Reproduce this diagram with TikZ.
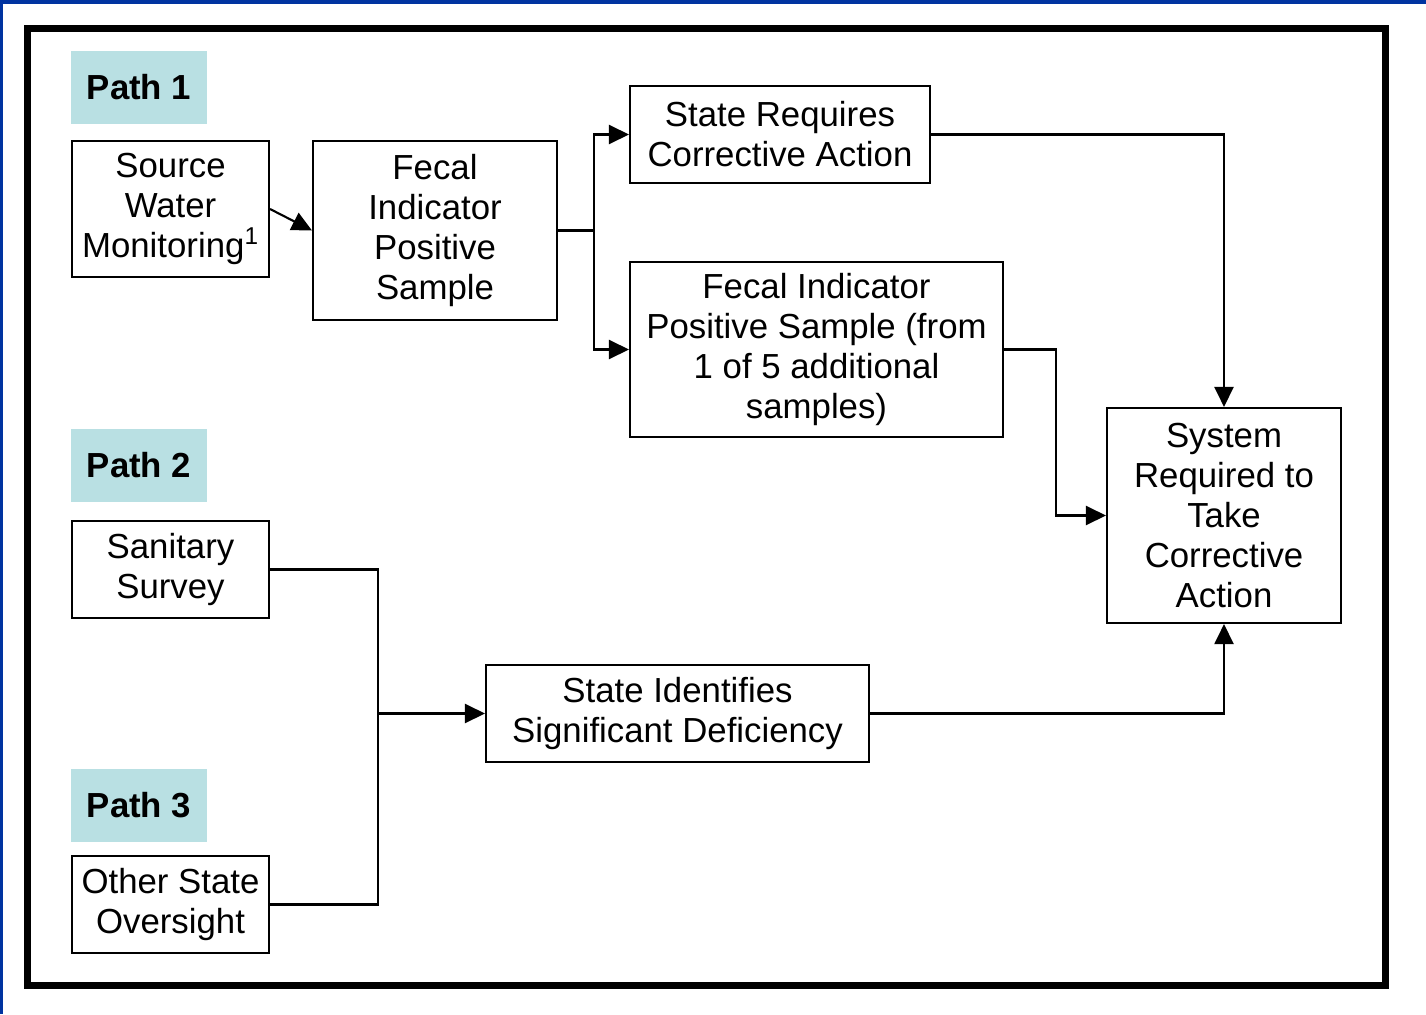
\documentclass[tikz,border=0pt]{standalone}
\usepackage{fontspec}
\setmainfont{Liberation Sans}
\usepackage{tikz}
\usetikzlibrary{arrows.meta, positioning}
\definecolor{tagcyan}{HTML}{B9E0E3}
\definecolor{edgeblue}{HTML}{0033A0}

\begin{document}
\begin{tikzpicture}[
        x=0.02cm, y=-0.02cm,
        font=\fontsize{19.8}{22.8}\selectfont,
        every node/.style={align=center},
        box/.style={rectangle, draw=black, line width=1.2pt, fill=white,
                    inner sep=0pt},
        pathtag/.style={rectangle, fill=tagcyan, minimum width=2.72cm,
                        minimum height=1.46cm, inner sep=0pt, font=\fontsize{19.8}{22.8}\selectfont\bfseries},
        line/.style={draw=black, line width=1.2pt},
        link/.style={line, -{Triangle[length=0.4cm, width=0.38cm]}},
        frame/.style={draw=black, line width=0.14cm}
    ]
        % page and outer frame
        \useasboundingbox (0,0) rectangle (1426,1014);
        \fill[white] (0,0) rectangle (1426,1014);
        \fill[edgeblue] (0,0) rectangle (1426,4);
        \fill[edgeblue] (0,0) rectangle (3,1014);
        \draw[frame] (27.5,28.5) rectangle (1385.5,985.5);

        % path 1
        \node[pathtag] (tag1) at (139,87.5) {Path 1};
        \node[box, minimum width=3.94cm, minimum height=2.72cm] (src) at (170.5,209)
            {Source\\Water\\Monitoring\textsuperscript{1}};
        \node[box, minimum width=4.88cm, minimum height=3.58cm] (fip) at (435,230.5)
            {Fecal\\Indicator\\Positive\\Sample};
        \node[box, minimum width=6.0cm, minimum height=1.94cm] (sreq) at (780,134.5)
            {State Requires\\Corrective Action};
        \node[box, minimum width=7.46cm, minimum height=3.5cm] (fip2) at (816.5,349.5)
            {Fecal Indicator\\Positive Sample (from\\1 of 5 additional\\samples)};
        \node[box, minimum width=4.68cm, minimum height=4.3cm] (sys) at (1224,515.5)
            {System\\Required to\\Take\\Corrective\\Action};

        % paths 2 and 3
        \node[pathtag] (tag2) at (139,465) {Path 2};
        \node[box, minimum width=3.94cm, minimum height=1.94cm] (san) at (170.5,569.5)
            {Sanitary\\Survey};
        \node[pathtag] (tag3) at (139,805.5) {Path 3};
        \node[box, minimum width=3.94cm, minimum height=1.94cm] (oth) at (170.5,904.5)
            {Other State\\Oversight};
        \node[box, minimum width=7.66cm, minimum height=1.94cm] (sid) at (677.5,713.5)
            {State Identifies\\Significant Deficiency};

        % connectors
        \draw[link] (src.east) -- (fip.west);
        \draw[link] (fip.east) -- ++(36,0) coordinate (split) |- (sreq.west);
        \draw[link] (split) |- (fip2.west);
        \draw[link] (sreq.east) -| (sys.north);
        \draw[link] (fip2.east) -- ++(52,0) |- (sys.west);
        \draw[line] (san.east) -- ++(108,0) coordinate (bus) |- (oth.east);
        \draw[link] (bus |- sid.west) -- (sid.west);
        \draw[link] (sid.east) -| (sys.south);
    \end{tikzpicture}
\end{document}
